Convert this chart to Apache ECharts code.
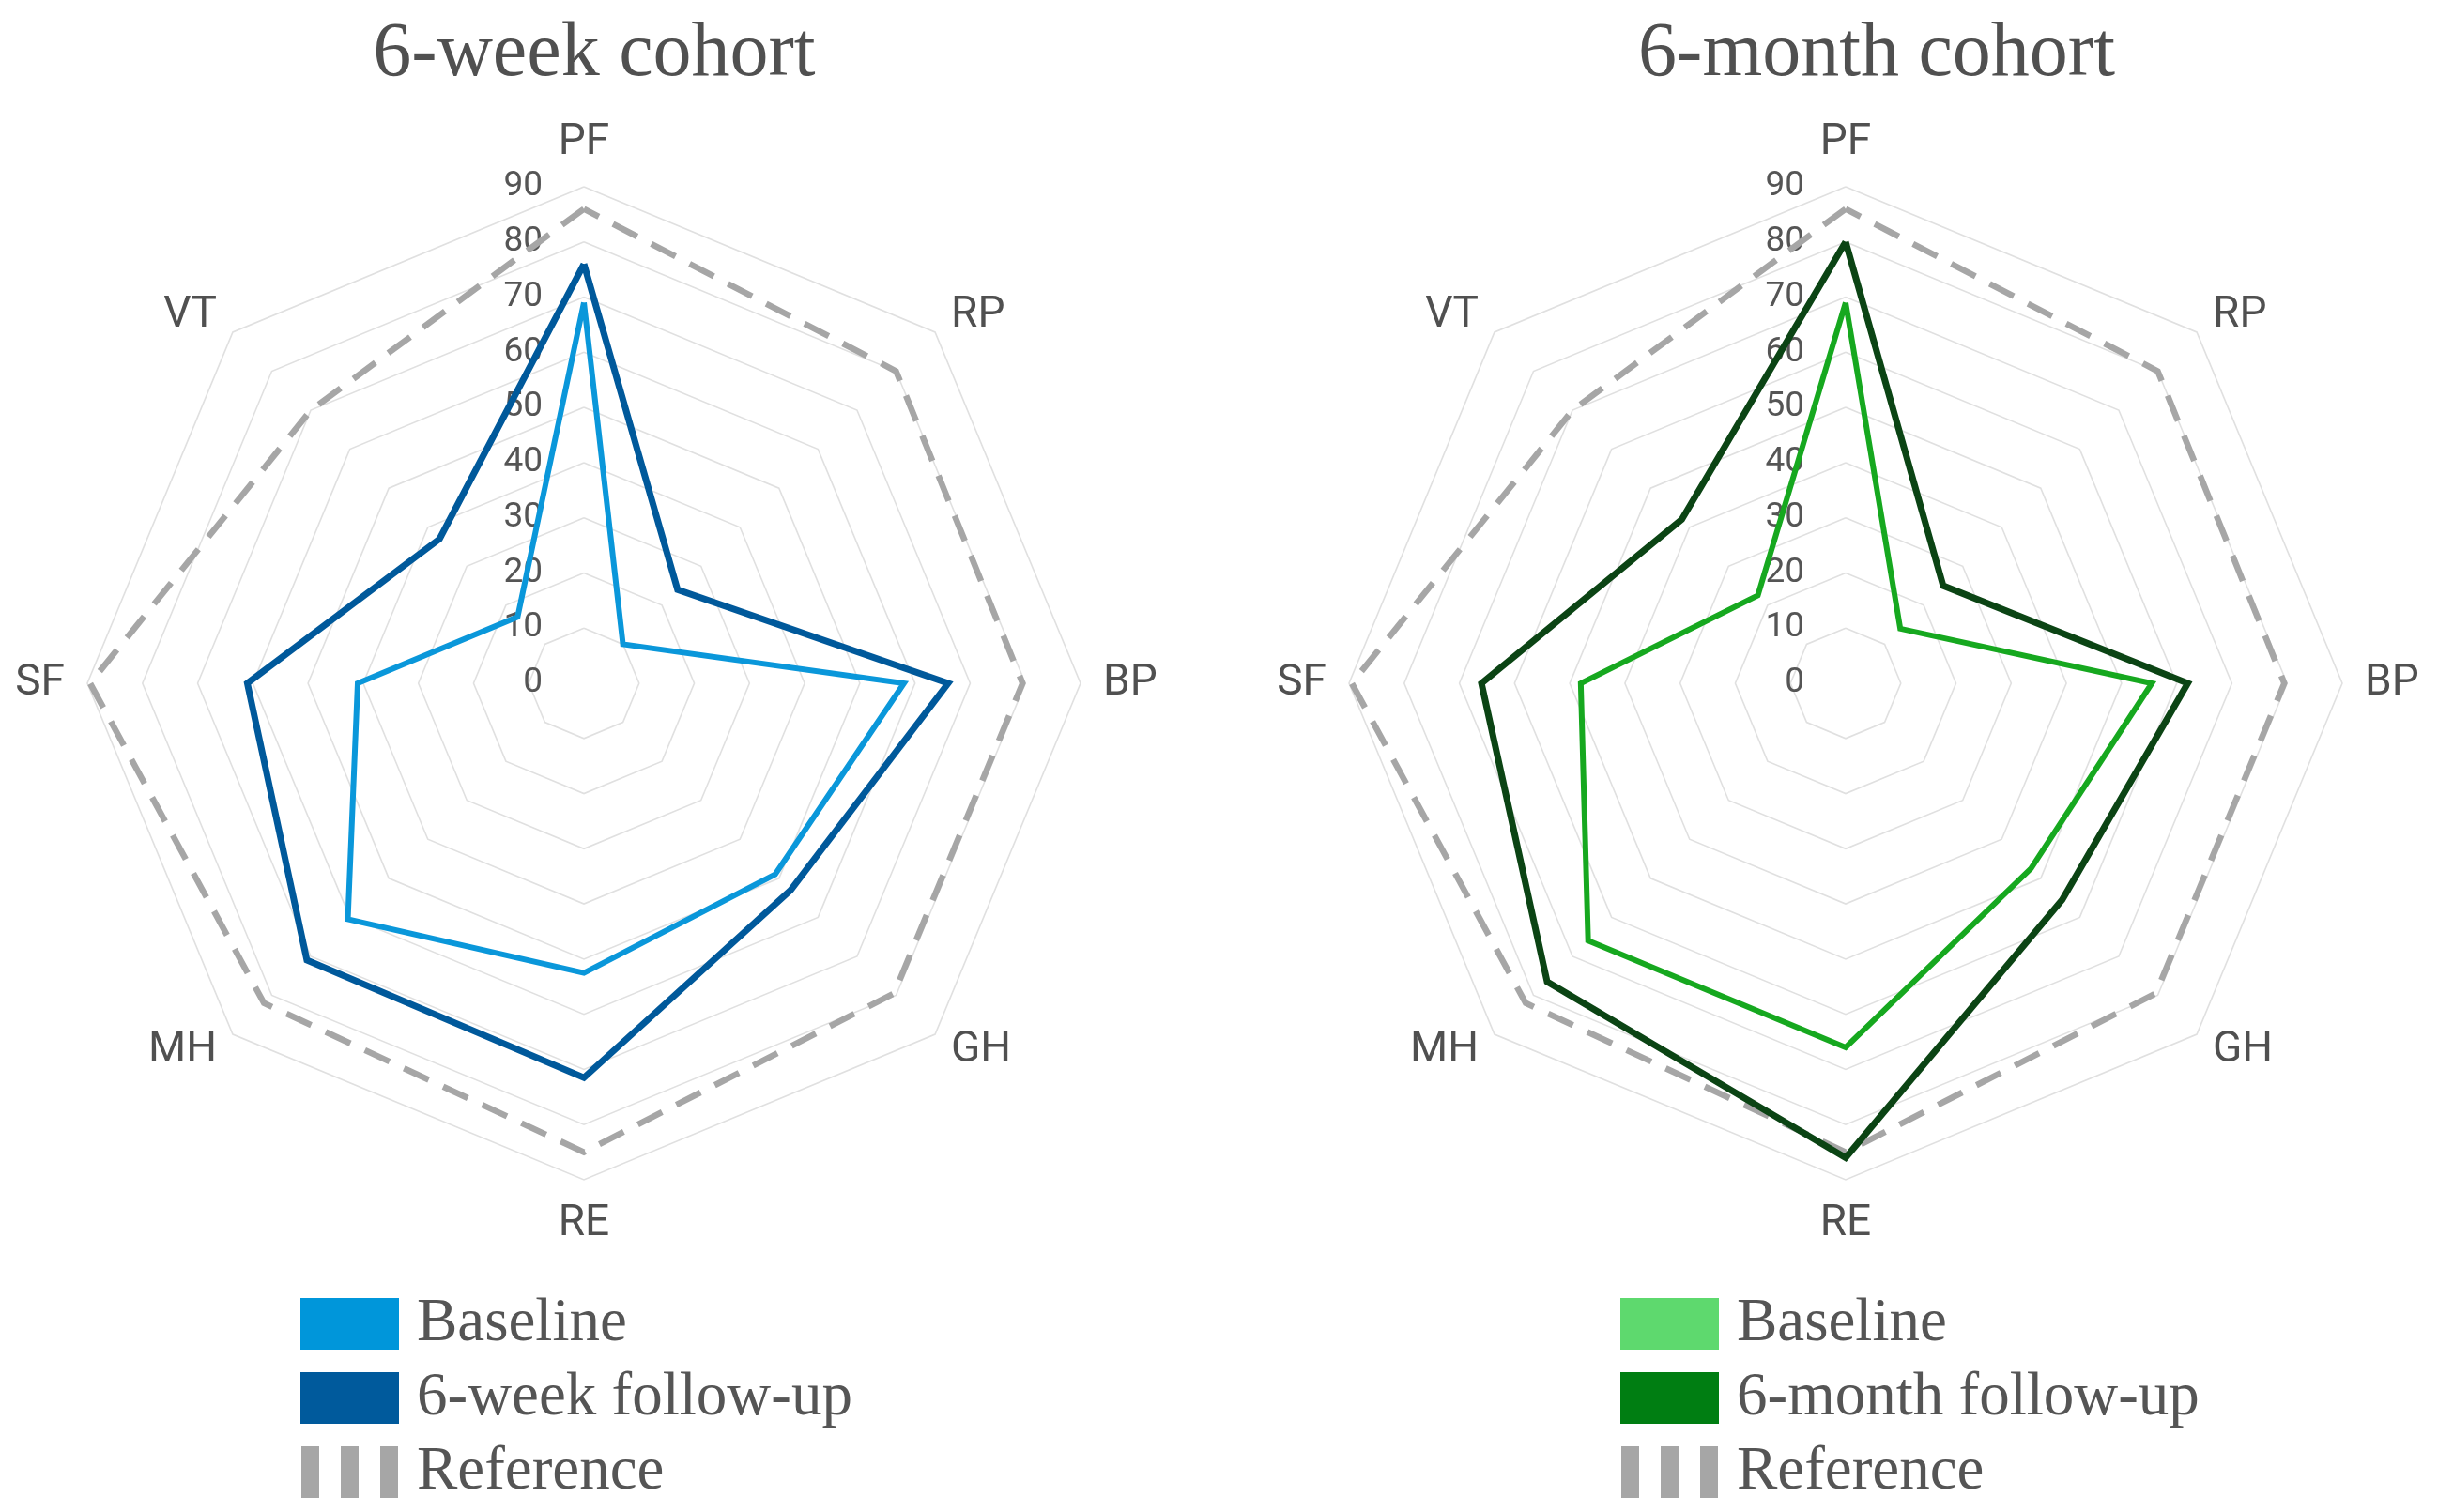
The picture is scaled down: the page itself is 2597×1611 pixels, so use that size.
<!DOCTYPE html>
<html>
<head>
<meta charset="utf-8">
<script src="https://cdn.jsdelivr.net/npm/echarts@6/dist/echarts.min.js"></script>
<style>
html,body{margin:0;padding:0;background:#fff;}
#main{width:2597px;height:1611px;}
</style>
</head>
<body>
<div id="main"></div>
<script>
// Domains, listed clockwise from the top
var categories = ['PF', 'RP', 'BP', 'GH', 'RE', 'MH', 'SF', 'VT'];
var tickLabels = ['0', '10', '20', '30', '40', '50', '60', '70', '80', '90'];
var axisMax = 90;

var titles = ['6-week cohort', '6-month cohort'];

var weekBaseline = [69, 10, 58, 49, 52.5, 60.5, 41, 17];
var weekFollowUp = [76, 24, 66, 53, 71.5, 71, 61, 37];
var monthBaseline = [69, 14, 55.5, 47.5, 66, 66, 48, 22.5];
var monthFollowUp = [80, 25, 62, 55.5, 86, 76.5, 66, 42];
var referenceNorm = [86, 80, 79.5, 79.5, 85, 82, 89.5, 70];

var legendWeek = ['Baseline', '6-week follow-up', 'Reference'];
var legendMonth = ['Baseline ', '6-month follow-up', 'Reference '];

// ECharts lays radar indicators out counter-clockwise: reorder from clockwise list
var order = [0, 7, 6, 5, 4, 3, 2, 1];
function reorder(arr) { return order.map(function (i) { return arr[i]; }); }

var nameFont = 'Roboto, "Noto Sans", sans-serif';
var serif = '"Liberation Serif", "DejaVu Serif", serif';

function makeRadar(cx) {
  return {
    center: [cx, 728],
    radius: 529,
    startAngle: 90,
    splitNumber: 9,
    shape: 'polygon',
    nameGap: 24,
    axisName: { color: '#505050', fontSize: 46, fontFamily: nameFont },
    indicator: reorder(categories).map(function (c, i) {
      var ind = { name: c, min: 0, max: axisMax };
      ind.axisLabel = {
        show: i === 0,
        margin: 44,
        color: '#555555',
        fontSize: 37,
        fontFamily: nameFont,
        formatter: function (v) { return tickLabels[Math.round(v / 10)]; }
      };
      return ind;
    }),
    axisLine: { show: false },
    axisTick: { show: false },
    splitArea: { show: false },
    splitLine: { lineStyle: { color: '#e0e0e0', width: 1.6 } }
  };
}

function radarSeries(name, radarIndex, values, color, width, dashed, z) {
  return {
    type: 'radar',
    name: name,
    radarIndex: radarIndex,
    symbol: 'none',
    z: z,
    lineStyle: {
      color: color,
      width: width,
      type: dashed ? [29, 17] : 'solid',
      join: 'miter',
      miterLimit: 30,
      cap: 'butt'
    },
    itemStyle: { color: color },
    data: [{ name: name, value: reorder(values) }]
  };
}

var barsIcon = 'path://M0,0h19v55h-19z M42,0h19v55h-19z M84,0h19v55h-19z';

function legendFor(names, colors, left) {
  return {
    orient: 'vertical',
    left: left,
    top: 1378,
    height: 400,
    padding: 0,
    itemWidth: 105,
    itemHeight: 55,
    itemGap: 14,
    selectedMode: false,
    textStyle: {
      color: '#555555',
      fontSize: 65,
      fontFamily: serif,
      lineHeight: 55,
      padding: [0, 0, 0, 14]
    },
    data: names.map(function (n, i) {
      return {
        name: n,
        icon: i === 2 ? barsIcon : 'rect',
        itemStyle: { color: colors[i], borderWidth: 0 }
      };
    })
  };
}

var chart = echarts.init(document.getElementById('main'));
chart.setOption({
  backgroundColor: '#ffffff',
  animation: false,
  title: [
    { text: titles[0], left: 628, top: 12, textAlign: 'center',
      textStyle: { color: '#505050', fontSize: 82, fontWeight: 'normal', fontFamily: serif } },
    { text: titles[1], left: 1994, top: 12, textAlign: 'center',
      textStyle: { color: '#505050', fontSize: 82, fontWeight: 'normal', fontFamily: serif } }
  ],
  legend: [
    legendFor(legendWeek, ['#0096DA', '#005A9C', '#A6A6A6'], 320),
    legendFor(legendMonth, ['#5ED96E', '#007E12', '#A6A6A6'], 1726)
  ],
  radar: [makeRadar(622), makeRadar(1966)],
  series: [
    radarSeries(legendWeek[2], 0, referenceNorm, '#A6A6A6', 6.5, true, 1),
    radarSeries(legendWeek[0], 0, weekBaseline, '#0A97DA', 6, false, 2),
    radarSeries(legendWeek[1], 0, weekFollowUp, '#00599B', 7, false, 3),
    radarSeries(legendMonth[2], 1, referenceNorm, '#A6A6A6', 6.5, true, 1),
    radarSeries(legendMonth[0], 1, monthBaseline, '#16A81F', 6, false, 2),
    radarSeries(legendMonth[1], 1, monthFollowUp, '#0B4414', 7, false, 3)
  ]
});
</script>
</body>
</html>
